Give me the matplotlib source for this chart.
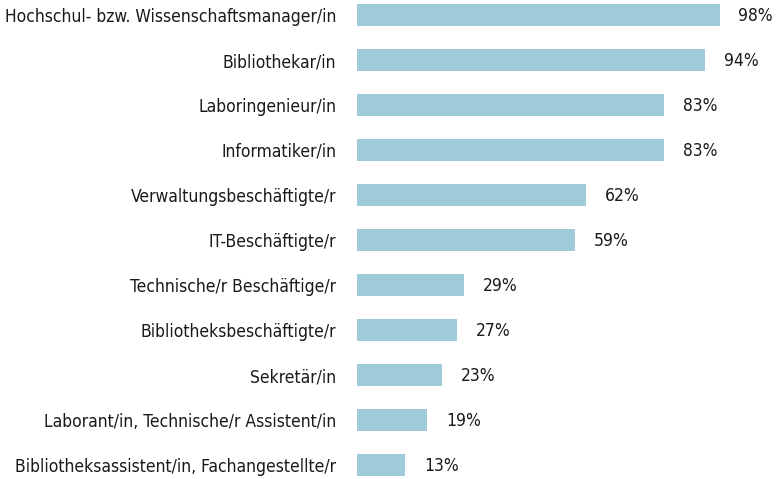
import matplotlib.pyplot as plt

plt.rcParams['font.family'] = ['DejaVu Sans']
plt.rcParams['font.stretch'] = 'condensed'

berufe = ["Hochschul- bzw. Wissenschaftsmanager/in", "Bibliothekar/in",
          "Laboringenieur/in", "Informatiker/in", "Verwaltungsbeschäftigte/r",
          "IT-Beschäftigte/r", "Technische/r Beschäftige/r",
          "Bibliotheksbeschäftigte/r", "Sekretär/in",
          "Laborant/in, Technische/r Assistent/in",
          "Bibliotheksassistent/in, Fachangestellte/r"]
anteile = [98, 94, 83, 83, 62, 59, 29, 27, 23, 19, 13]

fig = plt.figure(figsize=(7.79, 4.79), dpi=100)
ax = fig.add_axes([357/779, 0, 370/779, 1])

pos = list(range(len(berufe)))
ax.barh(pos, anteile, height=0.49, color='#9ecbd7')
for p, v in zip(pos, anteile):
    ax.annotate(f"{v}%", (v, p), xytext=(13.5, -1), textcoords='offset points',
                va='center', ha='left', fontsize=12.5, color='#1a1a1a')

ax.set_xlim(0, 100)
ax.set_ylim(10 + 14/45, -15/45)
ax.set_yticks(pos)
ax.set_yticklabels(berufe, fontsize=12.5, color='#1a1a1a')
ax.tick_params(axis='y', length=0, pad=15)
ax.set_xticks([])
for s in ax.spines.values():
    s.set_visible(False)

fig.savefig("out.png", dpi=100)
